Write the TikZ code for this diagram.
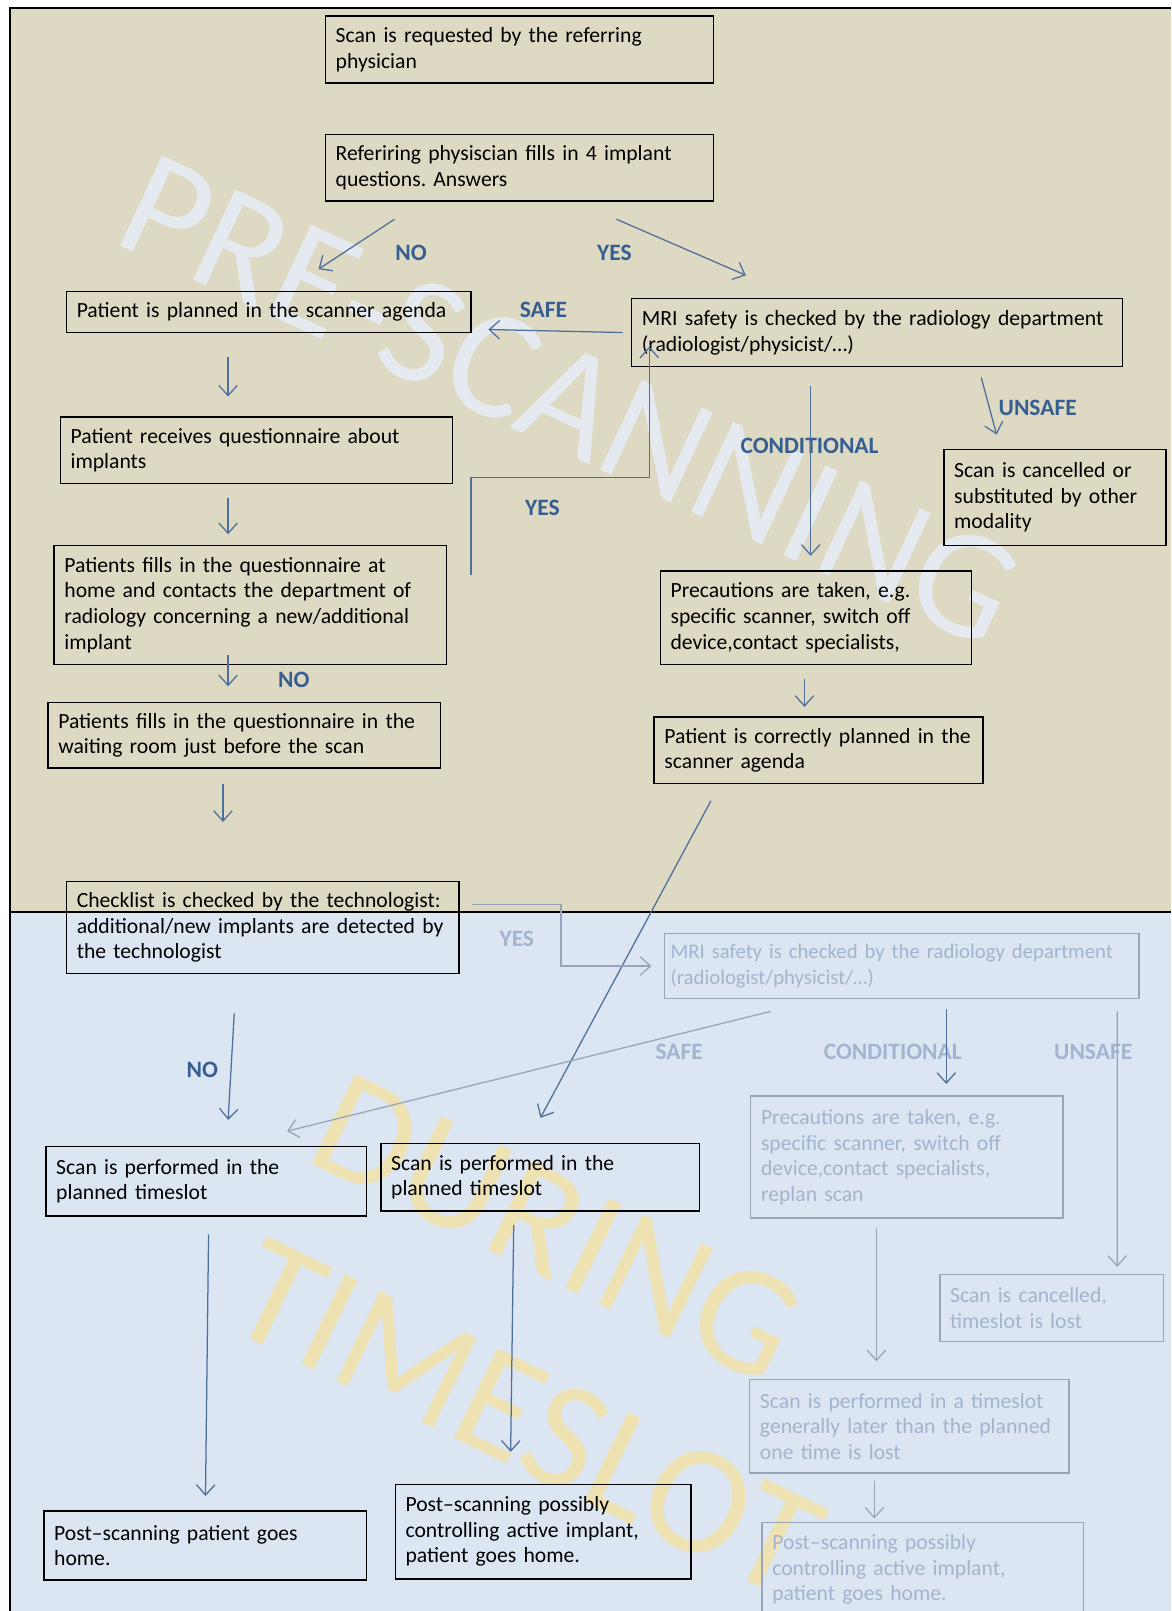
\documentclass[tikz,border=0pt]{standalone}
\usepackage{fontspec}
\setmainfont{Carlito}
\usetikzlibrary{arrows.meta}
\frenchspacing

\definecolor{tanbg}{RGB}{221,217,195}
\definecolor{bluebg}{RGB}{220,230,242}
\definecolor{arrowblue}{RGB}{79,110,155}
\definecolor{labelblue}{RGB}{54,94,145}
\definecolor{fadeline}{RGB}{152,165,184}
\definecolor{fadetext}{RGB}{163,180,206}
\definecolor{preshade}{RGB}{229,234,240}
\definecolor{durshade}{RGB}{238,226,178}

\begin{document}
\begin{tikzpicture}[x=0.02cm, y=-0.02cm,
    box/.style={draw, line width=0.8pt, anchor=north west, align=left, inner xsep=0.2cm,
        font=\fontsize{12}{14.2}\selectfont},
    fadebox/.style={box, draw=fadeline, text=fadetext},
    arr/.style={draw=arrowblue, line width=0.7pt, -{Straight Barb[length=2mm,width=3.6mm]}},
    fadearr/.style={arr, draw=fadeline},
    lbl/.style={text=labelblue, font=\fontsize{13}{15}\selectfont\bfseries},
    fadelbl/.style={lbl, text=fadetext},
    wmark/.style={font=\fontsize{86}{102}\selectfont}]

        \clip (0,0) rectangle (1140,1568);

        % ------------------ Background ------------------
        \fill[white] (0,0) rectangle (1140,1568);
        \fill[tanbg] (10,8) rectangle (1140,888);
        \fill[bluebg] (10,888) rectangle (1140,1568);
        \draw[line width=1.2pt] (10,1568) -- (10,8) -- (1140,8);
        \draw[line width=1.2pt] (10,888) -- (1140,888);

        % Watermarks
        \node[wmark, text=preshade, rotate=-25] (pre) at (555,390) {PRE-SCANNING};
        \node[wmark, text=durshade, rotate=-26, align=left] (during) at (552,1300) {DURING\\TIMESLOT};

        % ------------------ Pre-scanning ------------------

        \node[box, text width=7.16cm, minimum height=1.30cm] (req) at (316,15) {Scan is requested by the referring\\physician};
        \node[box, text width=7.16cm, minimum height=1.30cm] (fill) at (316,130) {Referiring physiscian fills in 4 implant\\questions. Answers};
        \node[box, text width=7.48cm, minimum height=0.80cm] (plan) at (64,283) {Patient is planned in the scanner agenda};
        \node[box, text width=9.16cm, minimum height=1.32cm] (mri) at (614,290) {MRI safety is checked by the radiology department\\(radiologist/physicist/\ldots)};
        \node[box, text width=7.24cm, minimum height=1.30cm] (recv) at (58,405) {Patient receives questionnaire about\\implants};
        \node[box, text width=7.24cm, minimum height=2.32cm] (home) at (52,530) {Patients fills in the questionnaire at\\home and contacts the department of\\radiology concerning a new/additional\\implant};
        \node[box, text width=3.92cm, minimum height=1.86cm] (cancel) at (918,437) {Scan is cancelled or\\substituted by other\\modality};
        \node[box, text width=5.66cm, minimum height=1.82cm] (prec) at (642,555) {Precautions are taken, e.g.\\specific scanner, switch off\\device,contact specialists,};
        \node[box, text width=6.00cm, minimum height=1.30cm] (correct) at (636,697) {Patient is correctly planned in the\\scanner agenda};
        \node[box, text width=7.24cm, minimum height=1.28cm] (wait) at (46,683) {Patients fills in the questionnaire in the\\waiting room just before the scan};
        \node[box, text width=7.24cm, minimum height=1.80cm] (check) at (64,857) {Checklist is checked by the technologist:\\additional/new implants are detected by\\the technologist};

        % Labels
        \node[lbl] (nolbl) at (400,246) {NO};
        \node[lbl] (yeslbl) at (598,246) {YES};
        \node[lbl] (safelbl) at (529,302) {SAFE};
        \node[lbl] (loopyes) at (528,494) {YES};
        \node[lbl] (condlbl) at (788,434) {CONDITIONAL};
        \node[lbl] (unsafelbl) at (1010,397) {UNSAFE};
        \node[lbl] (nowait) at (286,662) {NO};

        % Arrows
        \draw[arr] ([shift={(68,17)}]fill.south west) -- ([shift={(246,-21)}]plan.north west);
        \draw[arr] ([shift={(284,17)}]fill.south west) -- ([shift={(112,-22)}]mri.north west);
        \draw[arr] ([shift={(-8,0)}]mri.west) -- ([shift={(16,17)}]plan.east);
        \draw[arr] ([shift={(158,23)}]plan.south west) -- ([shift={(164,-19)}]recv.north west);
        \draw[arr] ([shift={(164,13)}]recv.south west) -- ([shift={(170,-10)}]home.north west);
        \coordinate (loopstart) at ([shift={(23,30)}]home.north east);
        \draw[arr] (loopstart) |- ([shift={(18,107)}]mri.south west) -- ([shift={(18,-20)}]mri.south west);
        \draw[arr] ([shift={(175,18)}]mri.south west) -- ([shift={(147,-14)}]prec.north west);
        \draw[arr] ([shift={(341,10)}]mri.south west) -- ([shift={(52,-14)}]cancel.north west);
        \draw[arr] ([shift={(141,13)}]prec.south west) -- ([shift={(147,-9)}]correct.north west);
        \draw[arr] ([shift={(170,-10)}]home.south west) -- ([shift={(176,-15)}]wait.north west);
        \draw[arr] ([shift={(171,15)}]wait.south west) -- ([shift={(153,-57)}]check.north west);


        % ------------------ During timeslot ------------------

        \node[fadebox, text width=9.0cm, inner xsep=0.12cm, minimum height=1.26cm,
            font=\fontsize{11.5}{14}\selectfont] (mritwo) at (646,908) {MRI safety is checked by the radiology department\\(radiologist/physicist/\ldots)};
        \node[box, text width=5.84cm, minimum height=1.36cm] (scana) at (44,1115) {Scan is performed in the\\planned timeslot};
        \node[box, text width=5.80cm, minimum height=1.32cm] (scanb) at (370,1112) {Scan is performed in the\\planned timeslot};
        \node[fadebox, text width=5.68cm, minimum height=2.38cm] (prectwo) at (730,1066) {Precautions are taken, e.g.\\specific scanner, switch off\\device,contact specialists,\\replan scan};
        \node[fadebox, text width=3.96cm, minimum height=1.30cm] (canceltwo) at (914,1240) {Scan is cancelled,\\timeslot is lost};
        \node[fadebox, text width=5.82cm, minimum height=1.82cm] (later) at (729,1342) {Scan is performed in a timeslot\\generally later than the planned\\one time is lost};
        \node[fadebox, text width=5.86cm, minimum height=1.84cm] (postc) at (741,1481) {Post--scanning possibly\\controlling active implant,\\patient goes home.};
        \node[box, text width=5.88cm, minimum height=1.34cm] (posta) at (42,1470) {Post--scanning patient goes\\home.};
        \node[box, text width=5.36cm, minimum height=1.84cm] (postb) at (384,1444) {Post--scanning possibly\\controlling active implant,\\patient goes home.};

        % Labels
        \node[fadelbl] (yestwo) at (503,914) {YES};
        \node[fadelbl] (safetwo) at (661,1024) {SAFE};
        \node[fadelbl] (condtwo) at (869,1024) {CONDITIONAL};
        \node[fadelbl] (unsafetwo) at (1064,1024) {UNSAFE};
        \node[lbl] (nocheck) at (197,1041) {NO};

        % Arrows
        \draw[arr] ([shift={(56,16)}]correct.south west) -- ([shift={(156,-24)}]scanb.north west);
        \draw[fadearr] ([shift={(12,23)}]check.north east) -| ([shift={(-100,0)}]mritwo.west) -- ([shift={(-12,0)}]mritwo.west);
        \draw[fadearr] ([shift={(104,12)}]mritwo.south west) -- ([shift={(-78,-14)}]scana.north east);
        \draw[arr] ([shift={(275,10)}]mritwo.south west) -- ([shift={(191,-11)}]prectwo.north west);
        \draw[fadearr] ([shift={(-22,12)}]mritwo.south east) -- ([shift={(-46,-7)}]canceltwo.north east);
        \draw[arr] ([shift={(164,38)}]check.south west) -- ([shift={(178,-25)}]scana.north west);
        \draw[fadearr] ([shift={(123,9)}]prectwo.south west) -- ([shift={(124,-17)}]later.north west);
        \draw[fadearr] ([shift={(122,7)}]later.south west) -- ([shift={(110,-3)}]postc.north west);
        \draw[arr] ([shift={(159,17)}]scana.south west) -- ([shift={(158,-14)}]posta.north west);
        \draw[arr] ([shift={(130,13)}]scanb.south west) -- ([shift={(113,-31)}]postb.north west);

    \end{tikzpicture}
\end{document}
